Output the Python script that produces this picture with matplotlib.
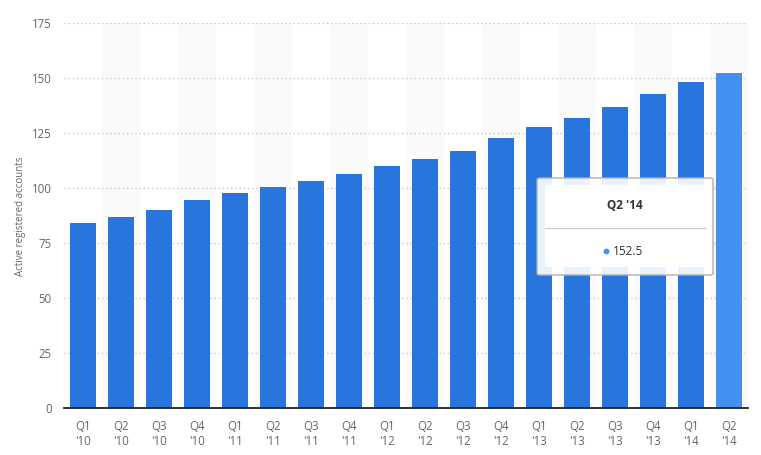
import matplotlib
matplotlib.use("Agg")
import matplotlib.pyplot as plt
from matplotlib.patches import Rectangle, FancyBboxPatch

categories = ["Q1\n'10", "Q2\n'10", "Q3\n'10", "Q4\n'10",
              "Q1\n'11", "Q2\n'11", "Q3\n'11", "Q4\n'11",
              "Q1\n'12", "Q2\n'12", "Q3\n'12", "Q4\n'12",
              "Q1\n'13", "Q2\n'13", "Q3\n'13", "Q4\n'13",
              "Q1\n'14", "Q2\n'14"]
values = [84, 87, 90, 94.4, 97.7, 100.4, 103.2, 106.3, 110, 113, 117, 122.7,
          127.6, 132, 137, 142.6, 148.4, 152.5]
yticks = [0, 25, 50, 75, 100, 125, 150, 175]
ylabel = "Active registered accounts"
tooltip_title = "Q2 '14"
tooltip_value = "152.5"
highlight_index = 17

plt.rcParams['font.family'] = ['Open Sans', 'DejaVu Sans']

W, H = 761, 455
fig = plt.figure(figsize=(W / 100, H / 100), dpi=100)
ax = fig.add_axes([64 / W, 47 / H, (748 - 64) / W, (408 - 23) / H])


def fx(px):
    return px / W


def fy(py):
    return 1 - py / H


n = len(categories)
x = list(range(n))
# alternating bands
for i in x:
    if i % 2 == 1:
        ax.axvspan(i - 0.5, i + 0.5, color="#fafafa", zorder=0, lw=0)

colors = ["#4390f1" if i == highlight_index else "#2876dd" for i in x]
ax.bar(x, values, width=26 / 38, color=colors, zorder=2)

ax.set_xlim(-0.5, n - 0.5)
ax.set_ylim(0, 175)
ax.set_yticks(yticks)
ax.set_xticks(x)
ax.set_xticklabels(categories, fontsize=8.3, color="#666666", linespacing=1.15)
ax.tick_params(axis="y", labelsize=8.3, labelcolor="#666666", length=0, pad=9)
ax.tick_params(axis="x", length=0, pad=9)
ax.yaxis.grid(True, linestyle=(0, (1, 2)), color="#c8c8c8", lw=1, zorder=1)
ax.set_axisbelow(True)
for s in ["top", "right", "left"]:
    ax.spines[s].set_visible(False)
ax.spines["bottom"].set_color("#222222")
ax.spines["bottom"].set_linewidth(1.3)
ax.spines["bottom"].set_zorder(3)
fig.text(fx(21), fy(216), ylabel, rotation=90, ha="center", va="center",
         fontsize=7, color="#666666")

# tooltip (figure pixel coords)
outer = Rectangle((fx(537), fy(275)), (713 - 537) / W, (275 - 178) / H,
                  transform=fig.transFigure, facecolor="white", alpha=0.9,
                  edgecolor="none", zorder=5)
fig.add_artist(outer)
border = FancyBboxPatch((fx(537), fy(275)), (713 - 537) / W, (275 - 178) / H,
                        boxstyle="round,pad=0,rounding_size=0.004",
                        transform=fig.transFigure, facecolor="none",
                        edgecolor="#b0b0b0", lw=1, zorder=7)
fig.add_artist(border)
inner = Rectangle((fx(545), fy(267)), (705 - 545) / W, (267 - 185) / H,
                  transform=fig.transFigure, facecolor="white",
                  edgecolor="none", zorder=6)
fig.add_artist(inner)
fig.add_artist(plt.Line2D([fx(545), fx(705)], [fy(228), fy(228)],
                          transform=fig.transFigure, color="#cccccc", lw=1, zorder=8))
fig.text(fx(625), fy(206), tooltip_title, ha="center", va="center",
         fontsize=8.5, fontweight="bold", color="#333333", zorder=9)
fig.add_artist(plt.Line2D([fx(606)], [fy(251)], marker="o", markersize=3.2,
                          color="#4390f1", transform=fig.transFigure, zorder=9))
fig.text(fx(613), fy(251), tooltip_value, ha="left", va="center",
         fontsize=8.5, color="#333333", zorder=9)

fig.savefig("out.png", dpi=100)
